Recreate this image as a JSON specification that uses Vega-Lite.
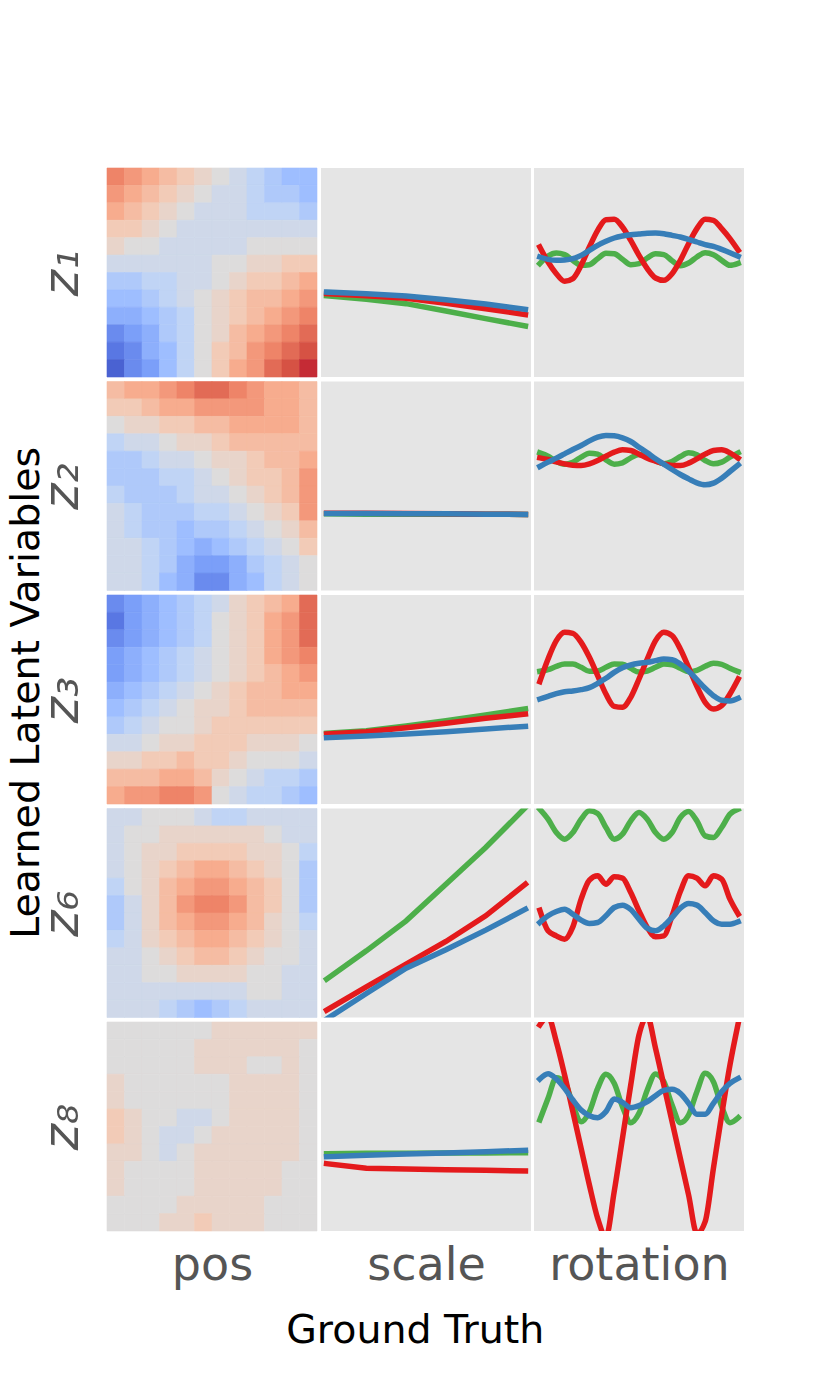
{
"$schema":"https://vega.github.io/schema/vega-lite/v6.json",
"background":"white",
"padding":{"left":6,"top":167,"right":0,"bottom":0},
"config":{"view":{"stroke":null},"font":"DejaVu Sans",
"axis":{"domain":false,"ticks":false,"labels":false,"grid":false,"titleFont":"DejaVu Sans","titleFontSize":46,"titleColor":"#555555","titleFontWeight":"normal"},
"axisX":{"titlePadding":12},"axisY":{"titlePadding":20,"titleFontStyle":"italic","titleFontSize":50},
"title":{"font":"DejaVu Sans","fontWeight":"normal","color":"black","fontSize":39.5}},
"datasets":{
"h1":[
{"u":0,"w":0,"v":6},{"u":1,"w":0,"v":5},{"u":2,"w":0,"v":4},{"u":3,"w":0,"v":3},{"u":4,"w":0,"v":2},{"u":5,"w":0,"v":1},{"u":6,"w":0,"v":0},{"u":7,"w":0,"v":-1},{"u":8,"w":0,"v":-2},{"u":9,"w":0,"v":-3},{"u":10,"w":0,"v":-4},{"u":11,"w":0,"v":-4},
{"u":0,"w":1,"v":5},{"u":1,"w":1,"v":4},{"u":2,"w":1,"v":3},{"u":3,"w":1,"v":2},{"u":4,"w":1,"v":1},{"u":5,"w":1,"v":0},{"u":6,"w":1,"v":-1},{"u":7,"w":1,"v":-1},{"u":8,"w":1,"v":-2},{"u":9,"w":1,"v":-3},{"u":10,"w":1,"v":-3},{"u":11,"w":1,"v":-4},
{"u":0,"w":2,"v":4},{"u":1,"w":2,"v":3},{"u":2,"w":2,"v":2},{"u":3,"w":2,"v":1},{"u":4,"w":2,"v":0},{"u":5,"w":2,"v":-1},{"u":6,"w":2,"v":-1},{"u":7,"w":2,"v":-1},{"u":8,"w":2,"v":-2},{"u":9,"w":2,"v":-2},{"u":10,"w":2,"v":-2},{"u":11,"w":2,"v":-3},
{"u":0,"w":3,"v":2},{"u":1,"w":3,"v":2},{"u":2,"w":3,"v":1},{"u":3,"w":3,"v":0},{"u":4,"w":3,"v":-1},{"u":5,"w":3,"v":-1},{"u":6,"w":3,"v":-1},{"u":7,"w":3,"v":-1},{"u":8,"w":3,"v":-1},{"u":9,"w":3,"v":-1},{"u":10,"w":3,"v":-1},{"u":11,"w":3,"v":-1},
{"u":0,"w":4,"v":1},{"u":1,"w":4,"v":0},{"u":2,"w":4,"v":0},{"u":3,"w":4,"v":-1},{"u":4,"w":4,"v":-1},{"u":5,"w":4,"v":-1},{"u":6,"w":4,"v":-1},{"u":7,"w":4,"v":-1},{"u":8,"w":4,"v":0},{"u":9,"w":4,"v":0},{"u":10,"w":4,"v":0},{"u":11,"w":4,"v":0},
{"u":0,"w":5,"v":-1},{"u":1,"w":5,"v":-1},{"u":2,"w":5,"v":-1},{"u":3,"w":5,"v":-1},{"u":4,"w":5,"v":-1},{"u":5,"w":5,"v":-1},{"u":6,"w":5,"v":0},{"u":7,"w":5,"v":0},{"u":8,"w":5,"v":1},{"u":9,"w":5,"v":1},{"u":10,"w":5,"v":2},{"u":11,"w":5,"v":2},
{"u":0,"w":6,"v":-3},{"u":1,"w":6,"v":-3},{"u":2,"w":6,"v":-2},{"u":3,"w":6,"v":-2},{"u":4,"w":6,"v":-1},{"u":5,"w":6,"v":-1},{"u":6,"w":6,"v":0},{"u":7,"w":6,"v":1},{"u":8,"w":6,"v":2},{"u":9,"w":6,"v":2},{"u":10,"w":6,"v":3},{"u":11,"w":6,"v":4},
{"u":0,"w":7,"v":-4},{"u":1,"w":7,"v":-4},{"u":2,"w":7,"v":-3},{"u":3,"w":7,"v":-2},{"u":4,"w":7,"v":-1},{"u":5,"w":7,"v":0},{"u":6,"w":7,"v":1},{"u":7,"w":7,"v":2},{"u":8,"w":7,"v":3},{"u":9,"w":7,"v":3},{"u":10,"w":7,"v":4},{"u":11,"w":7,"v":5},
{"u":0,"w":8,"v":-5},{"u":1,"w":8,"v":-5},{"u":2,"w":8,"v":-4},{"u":3,"w":8,"v":-3},{"u":4,"w":8,"v":-2},{"u":5,"w":8,"v":0},{"u":6,"w":8,"v":1},{"u":7,"w":8,"v":2},{"u":8,"w":8,"v":3},{"u":9,"w":8,"v":4},{"u":10,"w":8,"v":5},{"u":11,"w":8,"v":6},
{"u":0,"w":9,"v":-7},{"u":1,"w":9,"v":-6},{"u":2,"w":9,"v":-5},{"u":3,"w":9,"v":-3},{"u":4,"w":9,"v":-2},{"u":5,"w":9,"v":0},{"u":6,"w":9,"v":1},{"u":7,"w":9,"v":3},{"u":8,"w":9,"v":4},{"u":9,"w":9,"v":5},{"u":10,"w":9,"v":6},{"u":11,"w":9,"v":7},
{"u":0,"w":10,"v":-8},{"u":1,"w":10,"v":-7},{"u":2,"w":10,"v":-5},{"u":3,"w":10,"v":-4},{"u":4,"w":10,"v":-2},{"u":5,"w":10,"v":0},{"u":6,"w":10,"v":2},{"u":7,"w":10,"v":3},{"u":8,"w":10,"v":5},{"u":9,"w":10,"v":6},{"u":10,"w":10,"v":7},{"u":11,"w":10,"v":8},
{"u":0,"w":11,"v":-9},{"u":1,"w":11,"v":-7},{"u":2,"w":11,"v":-6},{"u":3,"w":11,"v":-4},{"u":4,"w":11,"v":-2},{"u":5,"w":11,"v":0},{"u":6,"w":11,"v":2},{"u":7,"w":11,"v":4},{"u":8,"w":11,"v":5},{"u":9,"w":11,"v":7},{"u":10,"w":11,"v":8},{"u":11,"w":11,"v":9}
],
"h2":[
{"u":0,"w":0,"v":3},{"u":1,"w":0,"v":4},{"u":2,"w":0,"v":4},{"u":3,"w":0,"v":5},{"u":4,"w":0,"v":6},{"u":5,"w":0,"v":7},{"u":6,"w":0,"v":7},{"u":7,"w":0,"v":6},{"u":8,"w":0,"v":5},{"u":9,"w":0,"v":4},{"u":10,"w":0,"v":4},{"u":11,"w":0,"v":3},
{"u":0,"w":1,"v":2},{"u":1,"w":1,"v":2},{"u":2,"w":1,"v":3},{"u":3,"w":1,"v":4},{"u":4,"w":1,"v":4},{"u":5,"w":1,"v":5},{"u":6,"w":1,"v":5},{"u":7,"w":1,"v":5},{"u":8,"w":1,"v":5},{"u":9,"w":1,"v":4},{"u":10,"w":1,"v":4},{"u":11,"w":1,"v":3},
{"u":0,"w":2,"v":0},{"u":1,"w":2,"v":1},{"u":2,"w":2,"v":1},{"u":3,"w":2,"v":2},{"u":4,"w":2,"v":2},{"u":5,"w":2,"v":3},{"u":6,"w":2,"v":3},{"u":7,"w":2,"v":4},{"u":8,"w":2,"v":4},{"u":9,"w":2,"v":4},{"u":10,"w":2,"v":4},{"u":11,"w":2,"v":3},
{"u":0,"w":3,"v":-2},{"u":1,"w":3,"v":-1},{"u":2,"w":3,"v":-1},{"u":3,"w":3,"v":0},{"u":4,"w":3,"v":1},{"u":5,"w":3,"v":1},{"u":6,"w":3,"v":2},{"u":7,"w":3,"v":3},{"u":8,"w":3,"v":3},{"u":9,"w":3,"v":3},{"u":10,"w":3,"v":3},{"u":11,"w":3,"v":3},
{"u":0,"w":4,"v":-3},{"u":1,"w":4,"v":-3},{"u":2,"w":4,"v":-2},{"u":3,"w":4,"v":-1},{"u":4,"w":4,"v":-1},{"u":5,"w":4,"v":0},{"u":6,"w":4,"v":1},{"u":7,"w":4,"v":1},{"u":8,"w":4,"v":2},{"u":9,"w":4,"v":3},{"u":10,"w":4,"v":3},{"u":11,"w":4,"v":4},
{"u":0,"w":5,"v":-3},{"u":1,"w":5,"v":-3},{"u":2,"w":5,"v":-3},{"u":3,"w":5,"v":-2},{"u":4,"w":5,"v":-2},{"u":5,"w":5,"v":-1},{"u":6,"w":5,"v":0},{"u":7,"w":5,"v":1},{"u":8,"w":5,"v":2},{"u":9,"w":5,"v":2},{"u":10,"w":5,"v":3},{"u":11,"w":5,"v":5},
{"u":0,"w":6,"v":-2},{"u":1,"w":6,"v":-3},{"u":2,"w":6,"v":-3},{"u":3,"w":6,"v":-3},{"u":4,"w":6,"v":-2},{"u":5,"w":6,"v":-1},{"u":6,"w":6,"v":-1},{"u":7,"w":6,"v":0},{"u":8,"w":6,"v":1},{"u":9,"w":6,"v":2},{"u":10,"w":6,"v":3},{"u":11,"w":6,"v":5},
{"u":0,"w":7,"v":-1},{"u":1,"w":7,"v":-2},{"u":2,"w":7,"v":-3},{"u":3,"w":7,"v":-3},{"u":4,"w":7,"v":-3},{"u":5,"w":7,"v":-2},{"u":6,"w":7,"v":-2},{"u":7,"w":7,"v":-1},{"u":8,"w":7,"v":0},{"u":9,"w":7,"v":1},{"u":10,"w":7,"v":2},{"u":11,"w":7,"v":5},
{"u":0,"w":8,"v":-1},{"u":1,"w":8,"v":-2},{"u":2,"w":8,"v":-3},{"u":3,"w":8,"v":-3},{"u":4,"w":8,"v":-4},{"u":5,"w":8,"v":-3},{"u":6,"w":8,"v":-3},{"u":7,"w":8,"v":-2},{"u":8,"w":8,"v":-1},{"u":9,"w":8,"v":0},{"u":10,"w":8,"v":1},{"u":11,"w":8,"v":3},
{"u":0,"w":9,"v":-1},{"u":1,"w":9,"v":-1},{"u":2,"w":9,"v":-2},{"u":3,"w":9,"v":-3},{"u":4,"w":9,"v":-4},{"u":5,"w":9,"v":-5},{"u":6,"w":9,"v":-4},{"u":7,"w":9,"v":-3},{"u":8,"w":9,"v":-2},{"u":9,"w":9,"v":-1},{"u":10,"w":9,"v":0},{"u":11,"w":9,"v":2},
{"u":0,"w":10,"v":-1},{"u":1,"w":10,"v":-1},{"u":2,"w":10,"v":-2},{"u":3,"w":10,"v":-3},{"u":4,"w":10,"v":-5},{"u":5,"w":10,"v":-6},{"u":6,"w":10,"v":-6},{"u":7,"w":10,"v":-5},{"u":8,"w":10,"v":-3},{"u":9,"w":10,"v":-2},{"u":10,"w":10,"v":-1},{"u":11,"w":10,"v":0},
{"u":0,"w":11,"v":-1},{"u":1,"w":11,"v":-1},{"u":2,"w":11,"v":-2},{"u":3,"w":11,"v":-4},{"u":4,"w":11,"v":-5},{"u":5,"w":11,"v":-7},{"u":6,"w":11,"v":-7},{"u":7,"w":11,"v":-5},{"u":8,"w":11,"v":-4},{"u":9,"w":11,"v":-2},{"u":10,"w":11,"v":-1},{"u":11,"w":11,"v":0}
],
"h3":[
{"u":0,"w":0,"v":-7},{"u":1,"w":0,"v":-6},{"u":2,"w":0,"v":-5},{"u":3,"w":0,"v":-4},{"u":4,"w":0,"v":-3},{"u":5,"w":0,"v":-2},{"u":6,"w":0,"v":-1},{"u":7,"w":0,"v":1},{"u":8,"w":0,"v":2},{"u":9,"w":0,"v":3},{"u":10,"w":0,"v":4},{"u":11,"w":0,"v":7},
{"u":0,"w":1,"v":-8},{"u":1,"w":1,"v":-6},{"u":2,"w":1,"v":-5},{"u":3,"w":1,"v":-4},{"u":4,"w":1,"v":-3},{"u":5,"w":1,"v":-2},{"u":6,"w":1,"v":0},{"u":7,"w":1,"v":1},{"u":8,"w":1,"v":2},{"u":9,"w":1,"v":4},{"u":10,"w":1,"v":5},{"u":11,"w":1,"v":7},
{"u":0,"w":2,"v":-7},{"u":1,"w":2,"v":-6},{"u":2,"w":2,"v":-5},{"u":3,"w":2,"v":-4},{"u":4,"w":2,"v":-3},{"u":5,"w":2,"v":-2},{"u":6,"w":2,"v":0},{"u":7,"w":2,"v":1},{"u":8,"w":2,"v":2},{"u":9,"w":2,"v":4},{"u":10,"w":2,"v":5},{"u":11,"w":2,"v":7},
{"u":0,"w":3,"v":-6},{"u":1,"w":3,"v":-5},{"u":2,"w":3,"v":-4},{"u":3,"w":3,"v":-3},{"u":4,"w":3,"v":-2},{"u":5,"w":3,"v":-1},{"u":6,"w":3,"v":0},{"u":7,"w":3,"v":1},{"u":8,"w":3,"v":2},{"u":9,"w":3,"v":4},{"u":10,"w":3,"v":5},{"u":11,"w":3,"v":6},
{"u":0,"w":4,"v":-6},{"u":1,"w":4,"v":-5},{"u":2,"w":4,"v":-4},{"u":3,"w":4,"v":-3},{"u":4,"w":4,"v":-2},{"u":5,"w":4,"v":-1},{"u":6,"w":4,"v":0},{"u":7,"w":4,"v":1},{"u":8,"w":4,"v":2},{"u":9,"w":4,"v":3},{"u":10,"w":4,"v":4},{"u":11,"w":4,"v":5},
{"u":0,"w":5,"v":-5},{"u":1,"w":5,"v":-4},{"u":2,"w":5,"v":-3},{"u":3,"w":5,"v":-2},{"u":4,"w":5,"v":-1},{"u":5,"w":5,"v":0},{"u":6,"w":5,"v":1},{"u":7,"w":5,"v":2},{"u":8,"w":5,"v":3},{"u":9,"w":5,"v":3},{"u":10,"w":5,"v":4},{"u":11,"w":5,"v":4},
{"u":0,"w":6,"v":-4},{"u":1,"w":6,"v":-3},{"u":2,"w":6,"v":-2},{"u":3,"w":6,"v":-1},{"u":4,"w":6,"v":0},{"u":5,"w":6,"v":1},{"u":6,"w":6,"v":1},{"u":7,"w":6,"v":2},{"u":8,"w":6,"v":3},{"u":9,"w":6,"v":3},{"u":10,"w":6,"v":3},{"u":11,"w":6,"v":3},
{"u":0,"w":7,"v":-3},{"u":1,"w":7,"v":-2},{"u":2,"w":7,"v":-1},{"u":3,"w":7,"v":0},{"u":4,"w":7,"v":0},{"u":5,"w":7,"v":1},{"u":6,"w":7,"v":2},{"u":7,"w":7,"v":2},{"u":8,"w":7,"v":2},{"u":9,"w":7,"v":2},{"u":10,"w":7,"v":2},{"u":11,"w":7,"v":2},
{"u":0,"w":8,"v":-1},{"u":1,"w":8,"v":-1},{"u":2,"w":8,"v":0},{"u":3,"w":8,"v":1},{"u":4,"w":8,"v":1},{"u":5,"w":8,"v":2},{"u":6,"w":8,"v":2},{"u":7,"w":8,"v":2},{"u":8,"w":8,"v":1},{"u":9,"w":8,"v":1},{"u":10,"w":8,"v":1},{"u":11,"w":8,"v":0},
{"u":0,"w":9,"v":1},{"u":1,"w":9,"v":1},{"u":2,"w":9,"v":2},{"u":3,"w":9,"v":2},{"u":4,"w":9,"v":3},{"u":5,"w":9,"v":2},{"u":6,"w":9,"v":2},{"u":7,"w":9,"v":1},{"u":8,"w":9,"v":0},{"u":9,"w":9,"v":0},{"u":10,"w":9,"v":0},{"u":11,"w":9,"v":-1},
{"u":0,"w":10,"v":3},{"u":1,"w":10,"v":3},{"u":2,"w":10,"v":3},{"u":3,"w":10,"v":4},{"u":4,"w":10,"v":4},{"u":5,"w":10,"v":3},{"u":6,"w":10,"v":1},{"u":7,"w":10,"v":0},{"u":8,"w":10,"v":-1},{"u":9,"w":10,"v":-2},{"u":10,"w":10,"v":-2},{"u":11,"w":10,"v":-3},
{"u":0,"w":11,"v":4},{"u":1,"w":11,"v":5},{"u":2,"w":11,"v":5},{"u":3,"w":11,"v":6},{"u":4,"w":11,"v":6},{"u":5,"w":11,"v":5},{"u":6,"w":11,"v":0},{"u":7,"w":11,"v":-1},{"u":8,"w":11,"v":-2},{"u":9,"w":11,"v":-2},{"u":10,"w":11,"v":-3},{"u":11,"w":11,"v":-4}
],
"h6":[
{"u":0,"w":0,"v":-1},{"u":1,"w":0,"v":-1},{"u":2,"w":0,"v":0},{"u":3,"w":0,"v":0},{"u":4,"w":0,"v":0},{"u":5,"w":0,"v":-1},{"u":6,"w":0,"v":-2},{"u":7,"w":0,"v":-2},{"u":8,"w":0,"v":-1},{"u":9,"w":0,"v":-1},{"u":10,"w":0,"v":-1},{"u":11,"w":0,"v":-1},
{"u":0,"w":1,"v":-1},{"u":1,"w":1,"v":0},{"u":2,"w":1,"v":0},{"u":3,"w":1,"v":1},{"u":4,"w":1,"v":1},{"u":5,"w":1,"v":1},{"u":6,"w":1,"v":1},{"u":7,"w":1,"v":1},{"u":8,"w":1,"v":1},{"u":9,"w":1,"v":0},{"u":10,"w":1,"v":-1},{"u":11,"w":1,"v":-1},
{"u":0,"w":2,"v":-1},{"u":1,"w":2,"v":0},{"u":2,"w":2,"v":1},{"u":3,"w":2,"v":1},{"u":4,"w":2,"v":2},{"u":5,"w":2,"v":2},{"u":6,"w":2,"v":2},{"u":7,"w":2,"v":2},{"u":8,"w":2,"v":1},{"u":9,"w":2,"v":1},{"u":10,"w":2,"v":0},{"u":11,"w":2,"v":-2},
{"u":0,"w":3,"v":-1},{"u":1,"w":3,"v":0},{"u":2,"w":3,"v":1},{"u":3,"w":3,"v":2},{"u":4,"w":3,"v":3},{"u":5,"w":3,"v":4},{"u":6,"w":3,"v":4},{"u":7,"w":3,"v":3},{"u":8,"w":3,"v":2},{"u":9,"w":3,"v":1},{"u":10,"w":3,"v":0},{"u":11,"w":3,"v":-3},
{"u":0,"w":4,"v":-2},{"u":1,"w":4,"v":0},{"u":2,"w":4,"v":1},{"u":3,"w":4,"v":3},{"u":4,"w":4,"v":4},{"u":5,"w":4,"v":5},{"u":6,"w":4,"v":5},{"u":7,"w":4,"v":4},{"u":8,"w":4,"v":3},{"u":9,"w":4,"v":2},{"u":10,"w":4,"v":0},{"u":11,"w":4,"v":-3},
{"u":0,"w":5,"v":-3},{"u":1,"w":5,"v":-1},{"u":2,"w":5,"v":1},{"u":3,"w":5,"v":3},{"u":4,"w":5,"v":5},{"u":5,"w":5,"v":6},{"u":6,"w":5,"v":6},{"u":7,"w":5,"v":5},{"u":8,"w":5,"v":3},{"u":9,"w":5,"v":2},{"u":10,"w":5,"v":0},{"u":11,"w":5,"v":-3},
{"u":0,"w":6,"v":-3},{"u":1,"w":6,"v":-1},{"u":2,"w":6,"v":1},{"u":3,"w":6,"v":3},{"u":4,"w":6,"v":4},{"u":5,"w":6,"v":5},{"u":6,"w":6,"v":5},{"u":7,"w":6,"v":4},{"u":8,"w":6,"v":3},{"u":9,"w":6,"v":1},{"u":10,"w":6,"v":0},{"u":11,"w":6,"v":-2},
{"u":0,"w":7,"v":-2},{"u":1,"w":7,"v":-1},{"u":2,"w":7,"v":1},{"u":3,"w":7,"v":2},{"u":4,"w":7,"v":3},{"u":5,"w":7,"v":4},{"u":6,"w":7,"v":4},{"u":7,"w":7,"v":3},{"u":8,"w":7,"v":2},{"u":9,"w":7,"v":1},{"u":10,"w":7,"v":0},{"u":11,"w":7,"v":-1},
{"u":0,"w":8,"v":-1},{"u":1,"w":8,"v":-1},{"u":2,"w":8,"v":0},{"u":3,"w":8,"v":1},{"u":4,"w":8,"v":2},{"u":5,"w":8,"v":3},{"u":6,"w":8,"v":3},{"u":7,"w":8,"v":2},{"u":8,"w":8,"v":1},{"u":9,"w":8,"v":0},{"u":10,"w":8,"v":0},{"u":11,"w":8,"v":-1},
{"u":0,"w":9,"v":-1},{"u":1,"w":9,"v":-1},{"u":2,"w":9,"v":0},{"u":3,"w":9,"v":0},{"u":4,"w":9,"v":1},{"u":5,"w":9,"v":1},{"u":6,"w":9,"v":1},{"u":7,"w":9,"v":1},{"u":8,"w":9,"v":0},{"u":9,"w":9,"v":0},{"u":10,"w":9,"v":-1},{"u":11,"w":9,"v":-1},
{"u":0,"w":10,"v":-1},{"u":1,"w":10,"v":-1},{"u":2,"w":10,"v":-1},{"u":3,"w":10,"v":-1},{"u":4,"w":10,"v":-1},{"u":5,"w":10,"v":-1},{"u":6,"w":10,"v":-1},{"u":7,"w":10,"v":-1},{"u":8,"w":10,"v":0},{"u":9,"w":10,"v":0},{"u":10,"w":10,"v":-1},{"u":11,"w":10,"v":-1},
{"u":0,"w":11,"v":-1},{"u":1,"w":11,"v":-1},{"u":2,"w":11,"v":-1},{"u":3,"w":11,"v":-2},{"u":4,"w":11,"v":-3},{"u":5,"w":11,"v":-4},{"u":6,"w":11,"v":-3},{"u":7,"w":11,"v":-2},{"u":8,"w":11,"v":-1},{"u":9,"w":11,"v":-1},{"u":10,"w":11,"v":-1},{"u":11,"w":11,"v":-1}
],
"h8":[
{"u":0,"w":0,"v":0},{"u":1,"w":0,"v":0},{"u":2,"w":0,"v":0},{"u":3,"w":0,"v":0},{"u":4,"w":0,"v":0},{"u":5,"w":0,"v":0},{"u":6,"w":0,"v":1},{"u":7,"w":0,"v":1},{"u":8,"w":0,"v":1},{"u":9,"w":0,"v":1},{"u":10,"w":0,"v":1},{"u":11,"w":0,"v":1},
{"u":0,"w":1,"v":0},{"u":1,"w":1,"v":0},{"u":2,"w":1,"v":0},{"u":3,"w":1,"v":0},{"u":4,"w":1,"v":0},{"u":5,"w":1,"v":1},{"u":6,"w":1,"v":1},{"u":7,"w":1,"v":1},{"u":8,"w":1,"v":1},{"u":9,"w":1,"v":1},{"u":10,"w":1,"v":1},{"u":11,"w":1,"v":0},
{"u":0,"w":2,"v":0},{"u":1,"w":2,"v":0},{"u":2,"w":2,"v":0},{"u":3,"w":2,"v":0},{"u":4,"w":2,"v":0},{"u":5,"w":2,"v":1},{"u":6,"w":2,"v":1},{"u":7,"w":2,"v":1},{"u":8,"w":2,"v":0},{"u":9,"w":2,"v":0},{"u":10,"w":2,"v":1},{"u":11,"w":2,"v":0},
{"u":0,"w":3,"v":1},{"u":1,"w":3,"v":0},{"u":2,"w":3,"v":0},{"u":3,"w":3,"v":0},{"u":4,"w":3,"v":0},{"u":5,"w":3,"v":0},{"u":6,"w":3,"v":0},{"u":7,"w":3,"v":1},{"u":8,"w":3,"v":1},{"u":9,"w":3,"v":1},{"u":10,"w":3,"v":1},{"u":11,"w":3,"v":0},
{"u":0,"w":4,"v":1},{"u":1,"w":4,"v":0},{"u":2,"w":4,"v":0},{"u":3,"w":4,"v":0},{"u":4,"w":4,"v":0},{"u":5,"w":4,"v":0},{"u":6,"w":4,"v":0},{"u":7,"w":4,"v":1},{"u":8,"w":4,"v":1},{"u":9,"w":4,"v":1},{"u":10,"w":4,"v":1},{"u":11,"w":4,"v":0},
{"u":0,"w":5,"v":2},{"u":1,"w":5,"v":1},{"u":2,"w":5,"v":0},{"u":3,"w":5,"v":0},{"u":4,"w":5,"v":-1},{"u":5,"w":5,"v":-1},{"u":6,"w":5,"v":0},{"u":7,"w":5,"v":1},{"u":8,"w":5,"v":1},{"u":9,"w":5,"v":1},{"u":10,"w":5,"v":1},{"u":11,"w":5,"v":0},
{"u":0,"w":6,"v":2},{"u":1,"w":6,"v":1},{"u":2,"w":6,"v":0},{"u":3,"w":6,"v":-1},{"u":4,"w":6,"v":-1},{"u":5,"w":6,"v":0},{"u":6,"w":6,"v":1},{"u":7,"w":6,"v":1},{"u":8,"w":6,"v":1},{"u":9,"w":6,"v":1},{"u":10,"w":6,"v":1},{"u":11,"w":6,"v":0},
{"u":0,"w":7,"v":1},{"u":1,"w":7,"v":1},{"u":2,"w":7,"v":0},{"u":3,"w":7,"v":-1},{"u":4,"w":7,"v":0},{"u":5,"w":7,"v":1},{"u":6,"w":7,"v":1},{"u":7,"w":7,"v":1},{"u":8,"w":7,"v":1},{"u":9,"w":7,"v":1},{"u":10,"w":7,"v":1},{"u":11,"w":7,"v":0},
{"u":0,"w":8,"v":1},{"u":1,"w":8,"v":0},{"u":2,"w":8,"v":0},{"u":3,"w":8,"v":0},{"u":4,"w":8,"v":0},{"u":5,"w":8,"v":1},{"u":6,"w":8,"v":1},{"u":7,"w":8,"v":1},{"u":8,"w":8,"v":1},{"u":9,"w":8,"v":1},{"u":10,"w":8,"v":0},{"u":11,"w":8,"v":0},
{"u":0,"w":9,"v":1},{"u":1,"w":9,"v":0},{"u":2,"w":9,"v":0},{"u":3,"w":9,"v":0},{"u":4,"w":9,"v":0},{"u":5,"w":9,"v":1},{"u":6,"w":9,"v":1},{"u":7,"w":9,"v":1},{"u":8,"w":9,"v":1},{"u":9,"w":9,"v":1},{"u":10,"w":9,"v":0},{"u":11,"w":9,"v":0},
{"u":0,"w":10,"v":0},{"u":1,"w":10,"v":0},{"u":2,"w":10,"v":0},{"u":3,"w":10,"v":0},{"u":4,"w":10,"v":1},{"u":5,"w":10,"v":1},{"u":6,"w":10,"v":1},{"u":7,"w":10,"v":1},{"u":8,"w":10,"v":1},{"u":9,"w":10,"v":0},{"u":10,"w":10,"v":0},{"u":11,"w":10,"v":0},
{"u":0,"w":11,"v":0},{"u":1,"w":11,"v":0},{"u":2,"w":11,"v":0},{"u":3,"w":11,"v":1},{"u":4,"w":11,"v":1},{"u":5,"w":11,"v":2},{"u":6,"w":11,"v":1},{"u":7,"w":11,"v":1},{"u":8,"w":11,"v":1},{"u":9,"w":11,"v":0},{"u":10,"w":11,"v":0},{"u":11,"w":11,"v":0}
],
"s1":[
{"c":"g","x":0,"v":244},{"c":"g","x":1,"v":233},{"c":"g","x":2,"v":220},{"c":"g","x":3,"v":198},{"c":"g","x":4,"v":175},{"c":"g","x":5,"v":153},
{"c":"r","x":0,"v":250},{"c":"r","x":1,"v":244},{"c":"r","x":2,"v":236},{"c":"r","x":3,"v":221},{"c":"r","x":4,"v":205},{"c":"r","x":5,"v":187},
{"c":"b","x":0,"v":255},{"c":"b","x":1,"v":250},{"c":"b","x":2,"v":243},{"c":"b","x":3,"v":232},{"c":"b","x":4,"v":219},{"c":"b","x":5,"v":203}
],
"s2":[
{"c":"g","x":0,"v":230},{"c":"g","x":1,"v":229},{"c":"g","x":2,"v":229},{"c":"g","x":3,"v":229},{"c":"g","x":4,"v":229},{"c":"g","x":5,"v":228},
{"c":"r","x":0,"v":232},{"c":"r","x":1,"v":232},{"c":"r","x":2,"v":231},{"c":"r","x":3,"v":230},{"c":"r","x":4,"v":229},{"c":"r","x":5,"v":228},
{"c":"b","x":0,"v":231},{"c":"b","x":1,"v":231},{"c":"b","x":2,"v":230},{"c":"b","x":3,"v":230},{"c":"b","x":4,"v":229},{"c":"b","x":5,"v":228}
],
"s3":[
{"c":"g","x":0,"v":212},{"c":"g","x":1,"v":220},{"c":"g","x":2,"v":234},{"c":"g","x":3,"v":250},{"c":"g","x":4,"v":267},{"c":"g","x":5,"v":285},
{"c":"r","x":0,"v":210},{"c":"r","x":1,"v":217},{"c":"r","x":2,"v":229},{"c":"r","x":3,"v":242},{"c":"r","x":4,"v":257},{"c":"r","x":5,"v":270},
{"c":"b","x":0,"v":199},{"c":"b","x":1,"v":204},{"c":"b","x":2,"v":210},{"c":"b","x":3,"v":217},{"c":"b","x":4,"v":225},{"c":"b","x":5,"v":233}
],
"s6":[
{"c":"g","x":0,"v":115},{"c":"g","x":1,"v":200},{"c":"g","x":2,"v":290},{"c":"g","x":3,"v":400},{"c":"g","x":4,"v":510},{"c":"g","x":5,"v":630},
{"c":"r","x":0,"v":22},{"c":"r","x":1,"v":92},{"c":"r","x":2,"v":160},{"c":"r","x":3,"v":228},{"c":"r","x":4,"v":305},{"c":"r","x":5,"v":400},
{"c":"b","x":0,"v":-5},{"c":"b","x":1,"v":72},{"c":"b","x":2,"v":148},{"c":"b","x":3,"v":203},{"c":"b","x":4,"v":262},{"c":"b","x":5,"v":325}
],
"s8":[
{"c":"g","x":0,"v":232},{"c":"g","x":1,"v":233},{"c":"g","x":2,"v":233},{"c":"g","x":3,"v":234},{"c":"g","x":4,"v":234},{"c":"g","x":5,"v":235},
{"c":"r","x":0,"v":202},{"c":"r","x":1,"v":188},{"c":"r","x":2,"v":186},{"c":"r","x":3,"v":184},{"c":"r","x":4,"v":182},{"c":"r","x":5,"v":180},
{"c":"b","x":0,"v":223},{"c":"b","x":1,"v":227},{"c":"b","x":2,"v":231},{"c":"b","x":3,"v":234},{"c":"b","x":4,"v":238},{"c":"b","x":5,"v":242}
],
"r1":[
{"c":"g","x":0,"v":340},{"c":"g","x":1,"v":363},{"c":"g","x":2,"v":372},{"c":"g","x":3,"v":367},{"c":"g","x":4,"v":350},{"c":"g","x":5,"v":335},{"c":"g","x":6,"v":337},{"c":"g","x":7,"v":355},{"c":"g","x":8,"v":371},{"c":"g","x":9,"v":370},{"c":"g","x":10,"v":353},{"c":"g","x":11,"v":337},{"c":"g","x":12,"v":340},{"c":"g","x":13,"v":357},{"c":"g","x":14,"v":370},{"c":"g","x":15,"v":367},{"c":"g","x":16,"v":349},{"c":"g","x":17,"v":334},{"c":"g","x":18,"v":342},{"c":"g","x":19,"v":360},{"c":"g","x":20,"v":373},{"c":"g","x":21,"v":367},{"c":"g","x":22,"v":350},{"c":"g","x":23,"v":335},{"c":"g","x":24,"v":341},
{"c":"r","x":0,"v":390},{"c":"r","x":1,"v":345},{"c":"r","x":2,"v":310},{"c":"r","x":3,"v":287},{"c":"r","x":4,"v":295},{"c":"r","x":5,"v":335},{"c":"r","x":6,"v":390},{"c":"r","x":7,"v":440},{"c":"r","x":8,"v":472},{"c":"r","x":9,"v":473},{"c":"r","x":10,"v":450},{"c":"r","x":11,"v":410},{"c":"r","x":12,"v":365},{"c":"r","x":13,"v":325},{"c":"r","x":14,"v":297},{"c":"r","x":15,"v":290},{"c":"r","x":16,"v":310},{"c":"r","x":17,"v":350},{"c":"r","x":18,"v":400},{"c":"r","x":19,"v":445},{"c":"r","x":20,"v":473},{"c":"r","x":21,"v":470},{"c":"r","x":22,"v":445},{"c":"r","x":23,"v":415},{"c":"r","x":24,"v":380},
{"c":"b","x":0,"v":360},{"c":"b","x":1,"v":353},{"c":"b","x":2,"v":350},{"c":"b","x":3,"v":351},{"c":"b","x":4,"v":355},{"c":"b","x":5,"v":365},{"c":"b","x":6,"v":380},{"c":"b","x":7,"v":395},{"c":"b","x":8,"v":407},{"c":"b","x":9,"v":417},{"c":"b","x":10,"v":423},{"c":"b","x":11,"v":427},{"c":"b","x":12,"v":429},{"c":"b","x":13,"v":431},{"c":"b","x":14,"v":432},{"c":"b","x":15,"v":430},{"c":"b","x":16,"v":425},{"c":"b","x":17,"v":420},{"c":"b","x":18,"v":413},{"c":"b","x":19,"v":405},{"c":"b","x":20,"v":397},{"c":"b","x":21,"v":392},{"c":"b","x":22,"v":383},{"c":"b","x":23,"v":373},{"c":"b","x":24,"v":362}
],
"r2":[
{"c":"g","x":0,"v":413},{"c":"g","x":1,"v":403},{"c":"g","x":2,"v":387},{"c":"g","x":3,"v":379},{"c":"g","x":4,"v":385},{"c":"g","x":5,"v":400},{"c":"g","x":6,"v":412},{"c":"g","x":7,"v":409},{"c":"g","x":8,"v":392},{"c":"g","x":9,"v":379},{"c":"g","x":10,"v":383},{"c":"g","x":11,"v":398},{"c":"g","x":12,"v":408},{"c":"g","x":13,"v":403},{"c":"g","x":14,"v":389},{"c":"g","x":15,"v":380},{"c":"g","x":16,"v":387},{"c":"g","x":17,"v":402},{"c":"g","x":18,"v":413},{"c":"g","x":19,"v":407},{"c":"g","x":20,"v":390},{"c":"g","x":21,"v":380},{"c":"g","x":22,"v":385},{"c":"g","x":23,"v":400},{"c":"g","x":24,"v":413},
{"c":"r","x":0,"v":398},{"c":"r","x":1,"v":393},{"c":"r","x":2,"v":386},{"c":"r","x":3,"v":380},{"c":"r","x":4,"v":376},{"c":"r","x":5,"v":375},{"c":"r","x":6,"v":380},{"c":"r","x":7,"v":390},{"c":"r","x":8,"v":403},{"c":"r","x":9,"v":415},{"c":"r","x":10,"v":422},{"c":"r","x":11,"v":420},{"c":"r","x":12,"v":409},{"c":"r","x":13,"v":397},{"c":"r","x":14,"v":388},{"c":"r","x":15,"v":380},{"c":"r","x":16,"v":375},{"c":"r","x":17,"v":375},{"c":"r","x":18,"v":382},{"c":"r","x":19,"v":395},{"c":"r","x":20,"v":409},{"c":"r","x":21,"v":420},{"c":"r","x":22,"v":422},{"c":"r","x":23,"v":413},{"c":"r","x":24,"v":397},
{"c":"b","x":0,"v":372},{"c":"b","x":1,"v":385},{"c":"b","x":2,"v":397},{"c":"b","x":3,"v":410},{"c":"b","x":4,"v":423},{"c":"b","x":5,"v":435},{"c":"b","x":6,"v":449},{"c":"b","x":7,"v":460},{"c":"b","x":8,"v":465},{"c":"b","x":9,"v":464},{"c":"b","x":10,"v":458},{"c":"b","x":11,"v":447},{"c":"b","x":12,"v":430},{"c":"b","x":13,"v":413},{"c":"b","x":14,"v":395},{"c":"b","x":15,"v":379},{"c":"b","x":16,"v":363},{"c":"b","x":17,"v":348},{"c":"b","x":18,"v":335},{"c":"b","x":19,"v":323},{"c":"b","x":20,"v":317},{"c":"b","x":21,"v":322},{"c":"b","x":22,"v":337},{"c":"b","x":23,"v":357},{"c":"b","x":24,"v":377}
],
"r3":[
{"c":"g","x":0,"v":398},{"c":"g","x":1,"v":403},{"c":"g","x":2,"v":413},{"c":"g","x":3,"v":420},{"c":"g","x":4,"v":420},{"c":"g","x":5,"v":410},{"c":"g","x":6,"v":398},{"c":"g","x":7,"v":399},{"c":"g","x":8,"v":410},{"c":"g","x":9,"v":420},{"c":"g","x":10,"v":419},{"c":"g","x":11,"v":407},{"c":"g","x":12,"v":396},{"c":"g","x":13,"v":399},{"c":"g","x":14,"v":410},{"c":"g","x":15,"v":420},{"c":"g","x":16,"v":418},{"c":"g","x":17,"v":407},{"c":"g","x":18,"v":397},{"c":"g","x":19,"v":401},{"c":"g","x":20,"v":413},{"c":"g","x":21,"v":422},{"c":"g","x":22,"v":419},{"c":"g","x":23,"v":407},{"c":"g","x":24,"v":397},
{"c":"r","x":0,"v":367},{"c":"r","x":1,"v":435},{"c":"r","x":2,"v":490},{"c":"r","x":3,"v":515},{"c":"r","x":4,"v":512},{"c":"r","x":5,"v":485},{"c":"r","x":6,"v":440},{"c":"r","x":7,"v":385},{"c":"r","x":8,"v":330},{"c":"r","x":9,"v":293},{"c":"r","x":10,"v":290},{"c":"r","x":11,"v":320},{"c":"r","x":12,"v":375},{"c":"r","x":13,"v":435},{"c":"r","x":14,"v":490},{"c":"r","x":15,"v":515},{"c":"r","x":16,"v":505},{"c":"r","x":17,"v":465},{"c":"r","x":18,"v":410},{"c":"r","x":19,"v":353},{"c":"r","x":20,"v":305},{"c":"r","x":21,"v":285},{"c":"r","x":22,"v":295},{"c":"r","x":23,"v":330},{"c":"r","x":24,"v":375},
{"c":"b","x":0,"v":315},{"c":"b","x":1,"v":323},{"c":"b","x":2,"v":331},{"c":"b","x":3,"v":337},{"c":"b","x":4,"v":339},{"c":"b","x":5,"v":343},{"c":"b","x":6,"v":349},{"c":"b","x":7,"v":362},{"c":"b","x":8,"v":377},{"c":"b","x":9,"v":395},{"c":"b","x":10,"v":409},{"c":"b","x":11,"v":417},{"c":"b","x":12,"v":422},{"c":"b","x":13,"v":425},{"c":"b","x":14,"v":430},{"c":"b","x":15,"v":435},{"c":"b","x":16,"v":433},{"c":"b","x":17,"v":420},{"c":"b","x":18,"v":399},{"c":"b","x":19,"v":373},{"c":"b","x":20,"v":347},{"c":"b","x":21,"v":325},{"c":"b","x":22,"v":311},{"c":"b","x":23,"v":309},{"c":"b","x":24,"v":317}
],
"r6":[
{"c":"g","x":0,"v":625},{"c":"g","x":1,"v":595},{"c":"g","x":2,"v":555},{"c":"g","x":3,"v":535},{"c":"g","x":4,"v":555},{"c":"g","x":5,"v":595},{"c":"g","x":6,"v":620},{"c":"g","x":7,"v":612},{"c":"g","x":8,"v":570},{"c":"g","x":9,"v":535},{"c":"g","x":10,"v":550},{"c":"g","x":11,"v":590},{"c":"g","x":12,"v":615},{"c":"g","x":13,"v":595},{"c":"g","x":14,"v":555},{"c":"g","x":15,"v":535},{"c":"g","x":16,"v":555},{"c":"g","x":17,"v":600},{"c":"g","x":18,"v":618},{"c":"g","x":19,"v":590},{"c":"g","x":20,"v":545},{"c":"g","x":21,"v":540},{"c":"g","x":22,"v":570},{"c":"g","x":23,"v":610},{"c":"g","x":24,"v":625},
{"c":"r","x":0,"v":322},{"c":"r","x":1,"v":260},{"c":"r","x":2,"v":245},{"c":"r","x":3,"v":235},{"c":"r","x":4,"v":272},{"c":"r","x":5,"v":355},{"c":"r","x":6,"v":412},{"c":"r","x":7,"v":425},{"c":"r","x":8,"v":400},{"c":"r","x":9,"v":422},{"c":"r","x":10,"v":418},{"c":"r","x":11,"v":375},{"c":"r","x":12,"v":320},{"c":"r","x":13,"v":270},{"c":"r","x":14,"v":242},{"c":"r","x":15,"v":245},{"c":"r","x":16,"v":305},{"c":"r","x":17,"v":378},{"c":"r","x":18,"v":425},{"c":"r","x":19,"v":418},{"c":"r","x":20,"v":395},{"c":"r","x":21,"v":425},{"c":"r","x":22,"v":415},{"c":"r","x":23,"v":355},{"c":"r","x":24,"v":310},
{"c":"b","x":0,"v":285},{"c":"b","x":1,"v":305},{"c":"b","x":2,"v":318},{"c":"b","x":3,"v":325},{"c":"b","x":4,"v":310},{"c":"b","x":5,"v":292},{"c":"b","x":6,"v":282},{"c":"b","x":7,"v":285},{"c":"b","x":8,"v":305},{"c":"b","x":9,"v":330},{"c":"b","x":10,"v":337},{"c":"b","x":11,"v":324},{"c":"b","x":12,"v":295},{"c":"b","x":13,"v":268},{"c":"b","x":14,"v":260},{"c":"b","x":15,"v":275},{"c":"b","x":16,"v":300},{"c":"b","x":17,"v":328},{"c":"b","x":18,"v":342},{"c":"b","x":19,"v":337},{"c":"b","x":20,"v":315},{"c":"b","x":21,"v":290},{"c":"b","x":22,"v":280},{"c":"b","x":23,"v":280},{"c":"b","x":24,"v":287}
],
"r8":[
{"c":"g","x":0,"v":333},{"c":"g","x":1,"v":398},{"c":"g","x":2,"v":460},{"c":"g","x":3,"v":448},{"c":"g","x":4,"v":378},{"c":"g","x":5,"v":328},{"c":"g","x":6,"v":358},{"c":"g","x":7,"v":428},{"c":"g","x":8,"v":470},{"c":"g","x":9,"v":443},{"c":"g","x":10,"v":373},{"c":"g","x":11,"v":325},{"c":"g","x":12,"v":353},{"c":"g","x":13,"v":423},{"c":"g","x":14,"v":471},{"c":"g","x":15,"v":448},{"c":"g","x":16,"v":378},{"c":"g","x":17,"v":325},{"c":"g","x":18,"v":348},{"c":"g","x":19,"v":418},{"c":"g","x":20,"v":473},{"c":"g","x":21,"v":448},{"c":"g","x":22,"v":373},{"c":"g","x":23,"v":325},{"c":"g","x":24,"v":340},
{"c":"r","x":0,"v":618},{"c":"r","x":1,"v":643},{"c":"r","x":2,"v":568},{"c":"r","x":3,"v":468},{"c":"r","x":4,"v":358},{"c":"r","x":5,"v":248},{"c":"r","x":6,"v":138},{"c":"r","x":7,"v":38},{"c":"r","x":8,"v":-17},{"c":"r","x":9,"v":118},{"c":"r","x":10,"v":278},{"c":"r","x":11,"v":438},{"c":"r","x":12,"v":588},{"c":"r","x":13,"v":643},{"c":"r","x":14,"v":548},{"c":"r","x":15,"v":438},{"c":"r","x":16,"v":328},{"c":"r","x":17,"v":218},{"c":"r","x":18,"v":108},{"c":"r","x":19,"v":-7},{"c":"r","x":20,"v":28},{"c":"r","x":21,"v":188},{"c":"r","x":22,"v":348},{"c":"r","x":23,"v":498},{"c":"r","x":24,"v":623},
{"c":"b","x":0,"v":456},{"c":"b","x":1,"v":472},{"c":"b","x":2,"v":456},{"c":"b","x":3,"v":428},{"c":"b","x":4,"v":393},{"c":"b","x":5,"v":363},{"c":"b","x":6,"v":346},{"c":"b","x":7,"v":340},{"c":"b","x":8,"v":358},{"c":"b","x":9,"v":396},{"c":"b","x":10,"v":386},{"c":"b","x":11,"v":370},{"c":"b","x":12,"v":376},{"c":"b","x":13,"v":388},{"c":"b","x":14,"v":406},{"c":"b","x":15,"v":422},{"c":"b","x":16,"v":425},{"c":"b","x":17,"v":413},{"c":"b","x":18,"v":383},{"c":"b","x":19,"v":350},{"c":"b","x":20,"v":350},{"c":"b","x":21,"v":383},{"c":"b","x":22,"v":418},{"c":"b","x":23,"v":443},{"c":"b","x":24,"v":458}
]
},
"title":{"text":"Ground Truth","orient":"bottom","anchor":"middle","offset":24,"dx":40},
"resolve":{"scale":{"x":"independent","y":"independent","color":"independent","stroke":"independent"}},
"vconcat":[{
"title":{"text":"Learned Latent Variables","orient":"left","anchor":"middle","offset":-10,"dx":35},
"spacing":2.5,
"resolve":{"scale":{"x":"independent","y":"independent","color":"independent","stroke":"independent"}},
"vconcat":[
{"spacing":3,"resolve":{"scale":{"x":"independent","y":"independent","color":"independent","stroke":"independent"}},"hconcat":[
{"width":210,"height":209,"data":{"name":"h1"},"mark":{"type":"rect","strokeWidth":0.6},"encoding":{"x":{"field":"u","type":"ordinal","scale":{"paddingInner":0,"paddingOuter":0},"axis":null},"y":{"field":"w","type":"ordinal","scale":{"paddingInner":0,"paddingOuter":0},"axis":{"title":"z₁"}},"color":{"field":"v","type":"quantitative","scale":{"domain":[-10,-8,-6,-4,-2,0,2,4,6,8,10],"range":["#3b4cc0","#5977e3","#7b9ff9","#9ebeff","#c0d4f5","#dddcdc","#f2cbb7","#f7ac8e","#ee8468","#d65244","#b40426"],"interpolate":"rgb"},"legend":null},"stroke":{"field":"v","type":"quantitative","scale":{"domain":[-10,-8,-6,-4,-2,0,2,4,6,8,10],"range":["#3b4cc0","#5977e3","#7b9ff9","#9ebeff","#c0d4f5","#dddcdc","#f2cbb7","#f7ac8e","#ee8468","#d65244","#b40426"],"interpolate":"rgb"},"legend":null}}},
{"width":210,"height":209,"view":{"fill":"#e5e5e5","stroke":null},"data":{"name":"s1"},"mark":{"type":"line","strokeWidth":5.5,"clip":true,"strokeCap":"square"},"encoding":{"x":{"field":"x","type":"quantitative","scale":{"domain":[-0.14,5.14],"nice":false,"zero":false},"axis":null},"y":{"field":"v","type":"quantitative","scale":{"domain":[0,627],"nice":false,"zero":false},"axis":null},"color":{"field":"c","type":"nominal","scale":{"domain":["g","r","b"],"range":["#4daf4a","#e41a1c","#377eb8"]},"legend":null}}},
{"width":210,"height":209,"view":{"fill":"#e5e5e5","stroke":null},"data":{"name":"r1"},"mark":{"type":"line","strokeWidth":5.5,"clip":true,"strokeCap":"square","interpolate":"monotone"},"encoding":{"x":{"field":"x","type":"quantitative","scale":{"domain":[-0.7,24.7],"nice":false,"zero":false},"axis":null},"y":{"field":"v","type":"quantitative","scale":{"domain":[0,627],"nice":false,"zero":false},"axis":null},"color":{"field":"c","type":"nominal","scale":{"domain":["g","r","b"],"range":["#4daf4a","#e41a1c","#377eb8"]},"legend":null}}}
]},
{"spacing":3,"resolve":{"scale":{"x":"independent","y":"independent","color":"independent","stroke":"independent"}},"hconcat":[
{"width":210,"height":209,"data":{"name":"h2"},"mark":{"type":"rect","strokeWidth":0.6},"encoding":{"x":{"field":"u","type":"ordinal","scale":{"paddingInner":0,"paddingOuter":0},"axis":null},"y":{"field":"w","type":"ordinal","scale":{"paddingInner":0,"paddingOuter":0},"axis":{"title":"z₂"}},"color":{"field":"v","type":"quantitative","scale":{"domain":[-10,-8,-6,-4,-2,0,2,4,6,8,10],"range":["#3b4cc0","#5977e3","#7b9ff9","#9ebeff","#c0d4f5","#dddcdc","#f2cbb7","#f7ac8e","#ee8468","#d65244","#b40426"],"interpolate":"rgb"},"legend":null},"stroke":{"field":"v","type":"quantitative","scale":{"domain":[-10,-8,-6,-4,-2,0,2,4,6,8,10],"range":["#3b4cc0","#5977e3","#7b9ff9","#9ebeff","#c0d4f5","#dddcdc","#f2cbb7","#f7ac8e","#ee8468","#d65244","#b40426"],"interpolate":"rgb"},"legend":null}}},
{"width":210,"height":209,"view":{"fill":"#e5e5e5","stroke":null},"data":{"name":"s2"},"mark":{"type":"line","strokeWidth":5.5,"clip":true,"strokeCap":"square"},"encoding":{"x":{"field":"x","type":"quantitative","scale":{"domain":[-0.14,5.14],"nice":false,"zero":false},"axis":null},"y":{"field":"v","type":"quantitative","scale":{"domain":[0,627],"nice":false,"zero":false},"axis":null},"color":{"field":"c","type":"nominal","scale":{"domain":["g","r","b"],"range":["#4daf4a","#e41a1c","#377eb8"]},"legend":null}}},
{"width":210,"height":209,"view":{"fill":"#e5e5e5","stroke":null},"data":{"name":"r2"},"mark":{"type":"line","strokeWidth":5.5,"clip":true,"strokeCap":"square","interpolate":"monotone"},"encoding":{"x":{"field":"x","type":"quantitative","scale":{"domain":[-0.7,24.7],"nice":false,"zero":false},"axis":null},"y":{"field":"v","type":"quantitative","scale":{"domain":[0,627],"nice":false,"zero":false},"axis":null},"color":{"field":"c","type":"nominal","scale":{"domain":["g","r","b"],"range":["#4daf4a","#e41a1c","#377eb8"]},"legend":null}}}
]},
{"spacing":3,"resolve":{"scale":{"x":"independent","y":"independent","color":"independent","stroke":"independent"}},"hconcat":[
{"width":210,"height":209,"data":{"name":"h3"},"mark":{"type":"rect","strokeWidth":0.6},"encoding":{"x":{"field":"u","type":"ordinal","scale":{"paddingInner":0,"paddingOuter":0},"axis":null},"y":{"field":"w","type":"ordinal","scale":{"paddingInner":0,"paddingOuter":0},"axis":{"title":"z₃"}},"color":{"field":"v","type":"quantitative","scale":{"domain":[-10,-8,-6,-4,-2,0,2,4,6,8,10],"range":["#3b4cc0","#5977e3","#7b9ff9","#9ebeff","#c0d4f5","#dddcdc","#f2cbb7","#f7ac8e","#ee8468","#d65244","#b40426"],"interpolate":"rgb"},"legend":null},"stroke":{"field":"v","type":"quantitative","scale":{"domain":[-10,-8,-6,-4,-2,0,2,4,6,8,10],"range":["#3b4cc0","#5977e3","#7b9ff9","#9ebeff","#c0d4f5","#dddcdc","#f2cbb7","#f7ac8e","#ee8468","#d65244","#b40426"],"interpolate":"rgb"},"legend":null}}},
{"width":210,"height":209,"view":{"fill":"#e5e5e5","stroke":null},"data":{"name":"s3"},"mark":{"type":"line","strokeWidth":5.5,"clip":true,"strokeCap":"square"},"encoding":{"x":{"field":"x","type":"quantitative","scale":{"domain":[-0.14,5.14],"nice":false,"zero":false},"axis":null},"y":{"field":"v","type":"quantitative","scale":{"domain":[0,627],"nice":false,"zero":false},"axis":null},"color":{"field":"c","type":"nominal","scale":{"domain":["g","r","b"],"range":["#4daf4a","#e41a1c","#377eb8"]},"legend":null}}},
{"width":210,"height":209,"view":{"fill":"#e5e5e5","stroke":null},"data":{"name":"r3"},"mark":{"type":"line","strokeWidth":5.5,"clip":true,"strokeCap":"square","interpolate":"monotone"},"encoding":{"x":{"field":"x","type":"quantitative","scale":{"domain":[-0.7,24.7],"nice":false,"zero":false},"axis":null},"y":{"field":"v","type":"quantitative","scale":{"domain":[0,627],"nice":false,"zero":false},"axis":null},"color":{"field":"c","type":"nominal","scale":{"domain":["g","r","b"],"range":["#4daf4a","#e41a1c","#377eb8"]},"legend":null}}}
]},
{"spacing":3,"resolve":{"scale":{"x":"independent","y":"independent","color":"independent","stroke":"independent"}},"hconcat":[
{"width":210,"height":209,"data":{"name":"h6"},"mark":{"type":"rect","strokeWidth":0.6},"encoding":{"x":{"field":"u","type":"ordinal","scale":{"paddingInner":0,"paddingOuter":0},"axis":null},"y":{"field":"w","type":"ordinal","scale":{"paddingInner":0,"paddingOuter":0},"axis":{"title":"z₆"}},"color":{"field":"v","type":"quantitative","scale":{"domain":[-10,-8,-6,-4,-2,0,2,4,6,8,10],"range":["#3b4cc0","#5977e3","#7b9ff9","#9ebeff","#c0d4f5","#dddcdc","#f2cbb7","#f7ac8e","#ee8468","#d65244","#b40426"],"interpolate":"rgb"},"legend":null},"stroke":{"field":"v","type":"quantitative","scale":{"domain":[-10,-8,-6,-4,-2,0,2,4,6,8,10],"range":["#3b4cc0","#5977e3","#7b9ff9","#9ebeff","#c0d4f5","#dddcdc","#f2cbb7","#f7ac8e","#ee8468","#d65244","#b40426"],"interpolate":"rgb"},"legend":null}}},
{"width":210,"height":209,"view":{"fill":"#e5e5e5","stroke":null},"data":{"name":"s6"},"mark":{"type":"line","strokeWidth":5.5,"clip":true,"strokeCap":"square"},"encoding":{"x":{"field":"x","type":"quantitative","scale":{"domain":[-0.14,5.14],"nice":false,"zero":false},"axis":null},"y":{"field":"v","type":"quantitative","scale":{"domain":[0,627],"nice":false,"zero":false},"axis":null},"color":{"field":"c","type":"nominal","scale":{"domain":["g","r","b"],"range":["#4daf4a","#e41a1c","#377eb8"]},"legend":null}}},
{"width":210,"height":209,"view":{"fill":"#e5e5e5","stroke":null},"data":{"name":"r6"},"mark":{"type":"line","strokeWidth":5.5,"clip":true,"strokeCap":"square","interpolate":"monotone"},"encoding":{"x":{"field":"x","type":"quantitative","scale":{"domain":[-0.7,24.7],"nice":false,"zero":false},"axis":null},"y":{"field":"v","type":"quantitative","scale":{"domain":[0,627],"nice":false,"zero":false},"axis":null},"color":{"field":"c","type":"nominal","scale":{"domain":["g","r","b"],"range":["#4daf4a","#e41a1c","#377eb8"]},"legend":null}}}
]},
{"spacing":3,"resolve":{"scale":{"x":"independent","y":"independent","color":"independent","stroke":"independent"}},"hconcat":[
{"width":210,"height":209,"data":{"name":"h8"},"mark":{"type":"rect","strokeWidth":0.6},"encoding":{"x":{"field":"u","type":"ordinal","scale":{"paddingInner":0,"paddingOuter":0},"axis":{"title":"pos"}},"y":{"field":"w","type":"ordinal","scale":{"paddingInner":0,"paddingOuter":0},"axis":{"title":"z₈"}},"color":{"field":"v","type":"quantitative","scale":{"domain":[-10,-8,-6,-4,-2,0,2,4,6,8,10],"range":["#3b4cc0","#5977e3","#7b9ff9","#9ebeff","#c0d4f5","#dddcdc","#f2cbb7","#f7ac8e","#ee8468","#d65244","#b40426"],"interpolate":"rgb"},"legend":null},"stroke":{"field":"v","type":"quantitative","scale":{"domain":[-10,-8,-6,-4,-2,0,2,4,6,8,10],"range":["#3b4cc0","#5977e3","#7b9ff9","#9ebeff","#c0d4f5","#dddcdc","#f2cbb7","#f7ac8e","#ee8468","#d65244","#b40426"],"interpolate":"rgb"},"legend":null}}},
{"width":210,"height":209,"view":{"fill":"#e5e5e5","stroke":null},"data":{"name":"s8"},"mark":{"type":"line","strokeWidth":5.5,"clip":true,"strokeCap":"square"},"encoding":{"x":{"field":"x","type":"quantitative","scale":{"domain":[-0.14,5.14],"nice":false,"zero":false},"axis":{"title":"scale"}},"y":{"field":"v","type":"quantitative","scale":{"domain":[0,627],"nice":false,"zero":false},"axis":null},"color":{"field":"c","type":"nominal","scale":{"domain":["g","r","b"],"range":["#4daf4a","#e41a1c","#377eb8"]},"legend":null}}},
{"width":210,"height":209,"view":{"fill":"#e5e5e5","stroke":null},"data":{"name":"r8"},"mark":{"type":"line","strokeWidth":5.5,"clip":true,"strokeCap":"square","interpolate":"monotone"},"encoding":{"x":{"field":"x","type":"quantitative","scale":{"domain":[-0.7,24.7],"nice":false,"zero":false},"axis":{"title":"rotation"}},"y":{"field":"v","type":"quantitative","scale":{"domain":[0,627],"nice":false,"zero":false},"axis":null},"color":{"field":"c","type":"nominal","scale":{"domain":["g","r","b"],"range":["#4daf4a","#e41a1c","#377eb8"]},"legend":null}}}
]}
]}]
}
